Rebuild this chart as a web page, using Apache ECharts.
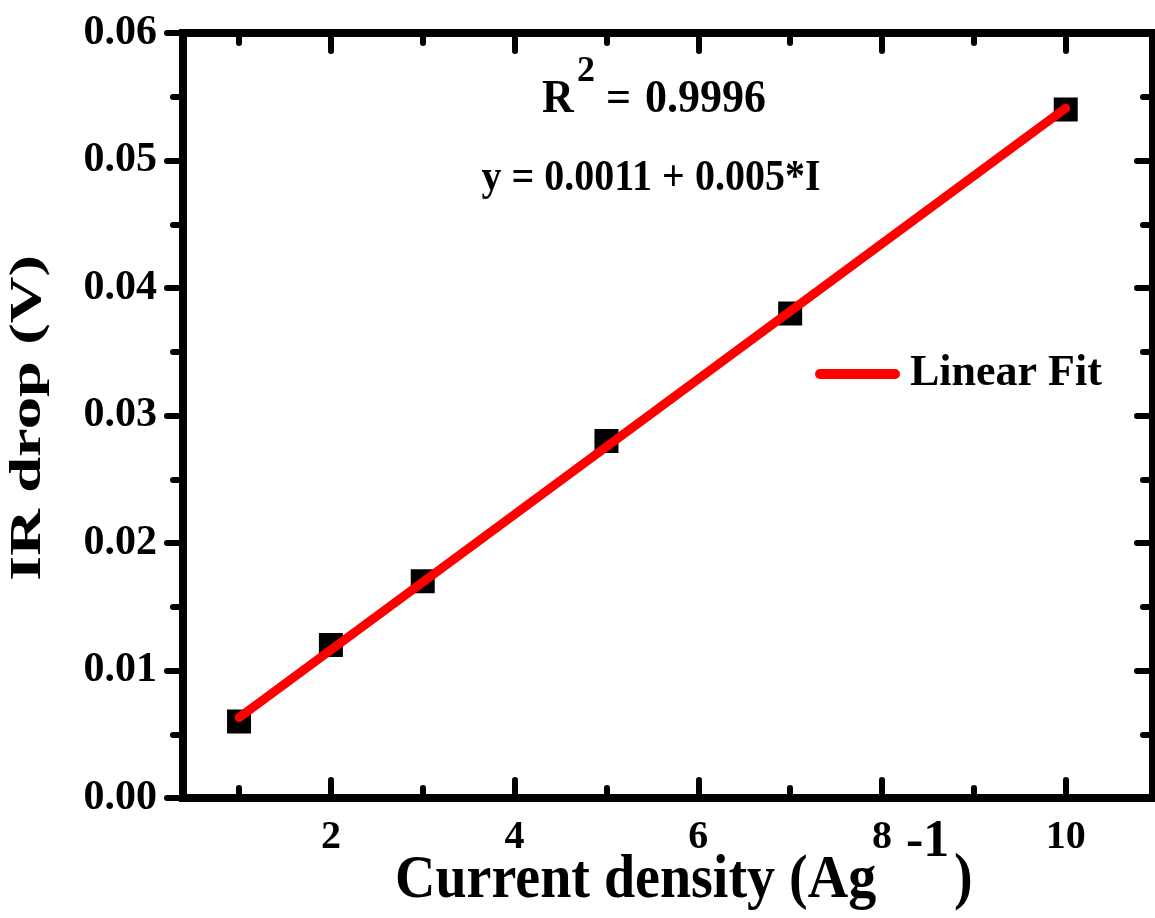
<!DOCTYPE html>
<html>
<head>
    <meta charset="utf-8" />
    <title>IR drop vs current density</title>
    <script src="https://cdn.jsdelivr.net/npm/echarts@6/dist/echarts.min.js"></script>
    <style>
        body { margin: 0; background: #fff; }
    </style>
</head>
<body>
<div id="main" style="width:1155px;height:918px;"></div>

<script type="text/javascript">
    // data
    var currentDensity = [1, 2, 3, 5, 7, 10];
    var irDrop = [0.006, 0.012, 0.017, 0.028, 0.038, 0.054];
    // linear fit line, ends
    var fitX = [1, 10];
    var fitY = [0.0063, 0.0541];
    // ticks
    var xMajorTicks = [2, 4, 6, 8, 10];
    var xMinorTicks = [1, 3, 5, 7, 9];
    var xMin = 0.39, xMax = 10.95;

    var serif = '"Liberation Serif", "Times New Roman", serif';

    var myChart = echarts.init(document.getElementById('main'));

    var points = currentDensity.map(function (x, i) { return [x, irDrop[i]]; });
    var fitLine = fitX.map(function (x, i) { return [x, fitY[i]]; });

    var axisLineStyle = { color: '#000', width: 8, cap: 'square' };
    var tickStyle = { color: '#000', width: 6, cap: 'round' };

    function xAxisDef(pos, ticks, len, withLine, withLabels) {
        return {
            type: 'value',
            position: pos,
            min: xMin,
            max: xMax,
            axisLine: { show: withLine, onZero: false, lineStyle: axisLineStyle },
            axisTick: { show: true, inside: true, length: len, customValues: ticks, lineStyle: tickStyle },
            axisLabel: {
                show: withLabels,
                customValues: ticks,
                margin: 20,
                color: '#000',
                fontFamily: serif,
                fontWeight: 'bold',
                fontSize: 40
            },
            splitLine: { show: false }
        };
    }

    function yAxisDef(pos, inside, withLabels) {
        return {
            type: 'value',
            position: pos,
            min: 0,
            max: 0.06,
            interval: 0.01,
            axisLine: { show: true, onZero: false, lineStyle: axisLineStyle },
            axisTick: { show: true, inside: inside, length: 16, lineStyle: tickStyle },
            minorTick: { show: true, splitNumber: 2, length: 10, lineStyle: tickStyle },
            axisLabel: {
                show: withLabels,
                margin: 26,
                color: '#000',
                fontFamily: serif,
                fontWeight: 'bold',
                fontSize: 42,
                formatter: function (v) { return v.toFixed(2); }
            },
            splitLine: { show: false },
            minorSplitLine: { show: false }
        };
    }

    function label(txt, x, y, size, align, extra) {
        var el = {
            type: 'text', x: x, y: y,
            style: {
                text: txt, fill: '#000',
                font: 'bold ' + size + 'px ' + serif,
                textAlign: align, textVerticalAlign: 'middle'
            }
        };
        for (var k in extra) el[k] = extra[k];
        return el;
    }

    var option = {
        backgroundColor: '#fff',
        animation: false,
        grid: { left: 183, right: 2, top: 33, bottom: 120, containLabel: false },
        xAxis: [
            xAxisDef('bottom', xMajorTicks, 18, true, true),
            xAxisDef('bottom', xMinorTicks, 10, false, false),
            xAxisDef('top', xMajorTicks, 18, true, false),
            xAxisDef('top', xMinorTicks, 10, false, false)
        ],
        yAxis: [
            yAxisDef('left', false, true),
            yAxisDef('right', true, false)
        ],
        legend: {
            data: ['Linear Fit'],
            left: 815,
            top: 352,
            padding: 0,
            itemWidth: 85,
            itemHeight: 10,
            icon: 'path://M5,0 L80,0 A5,5 0 0 1 80,10 L5,10 A5,5 0 0 1 5,0 Z',
            textStyle: {
                color: '#000',
                fontFamily: serif,
                fontWeight: 'bold',
                fontSize: 44,
                padding: [0, 0, 0, 5]
            }
        },
        series: [
            {
                name: 'data',
                type: 'scatter',
                symbol: 'rect',
                symbolSize: 24,
                itemStyle: { color: '#000', opacity: 1 },
                data: points,
                z: 3
            },
            {
                name: 'Linear Fit',
                type: 'line',
                symbol: 'none',
                itemStyle: { color: '#ff0000' },
                lineStyle: { color: '#ff0000', width: 9, cap: 'round' },
                data: fitLine,
                z: 4
            }
        ],
        graphic: [
            // y axis title, stretched along the text like in the figure
            label('IR drop (V)', 29, 418, 44, 'center', { rotation: Math.PI / 2, scaleX: 1.47 }),
            // x axis title
            label('Current density (Ag', 395, 881, 56, 'left', { scaleY: 1.08 }),
            label('-1', 906, 843, 52, 'left', {}),
            label(')', 954, 881, 56, 'left', { scaleY: 1.12 }),
            // fit annotation
            label('R', 542, 100, 44, 'left', { scaleY: 1.05 }),
            label('2', 577, 72, 36, 'left', {}),
            label('=', 606, 100, 44, 'left', {}),
            label('0.9996', 645, 100, 44, 'left', { scaleY: 1.05 }),
            label('y = 0.0011 + 0.005*I', 651, 178, 40, 'center', { scaleY: 1.12 })
        ]
    };

    myChart.setOption(option);
</script>
</body>
</html>
